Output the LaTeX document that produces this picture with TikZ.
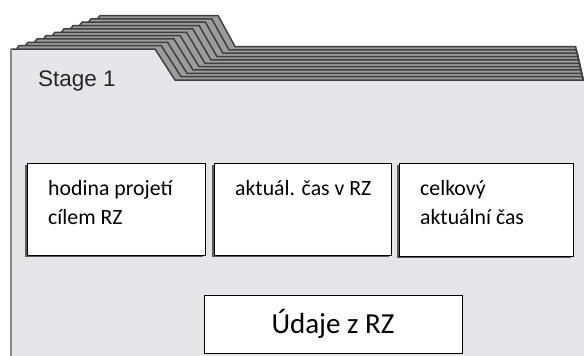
\documentclass[tikz,border=0pt]{standalone}
\usepackage{fontspec}
\setmainfont{Carlito}
\newfontfamily\arialf{Liberation Sans}
\usetikzlibrary{calc}
\definecolor{panelbg}{HTML}{E6E6E9}
\definecolor{stripedark}{HTML}{404040}
\definecolor{stripelight}{HTML}{9C9C9C}
\definecolor{edgegray}{HTML}{8A8A8A}
\definecolor{shadowgray}{HTML}{5A5A5A}
\tikzset{
  backpanel/.style={fill=stripelight, draw=stripedark, line width=1.5pt, line join=miter},
  frontpanel/.style={fill=panelbg, draw=none},
  databox/.style={draw=black, line width=1.3pt, fill=white, anchor=north west, inner sep=0pt},
  shadowbox/.style={fill=shadowgray, draw=none, anchor=north west, inner sep=0pt},
  boxtext/.style={anchor=base west, inner sep=0pt, font=\fontsize{21.8}{29}\selectfont},
}
\begin{document}
\begin{tikzpicture}[x=1pt, y=-1pt]
\useasboundingbox (0,0) rectangle (584,356);
\fill[white] (0,0) rectangle (584,356);
% stacked back panels
\foreach \k in {10,...,1}{
  \pgfmathsetmacro{\yt}{49-3.35*\k}
  \pgfmathsetmacro{\xl}{10+9*\k}
  \pgfmathsetmacro{\xa}{155+6.3*\k}
  \pgfmathsetmacro{\xb}{175+6.0*\k}
  \pgfmathsetmacro{\yr}{80-3.35*\k}
  \pgfmathsetmacro{\xr}{583-0.75*\k}
  \path[backpanel] (\xl-3,\yt+4) -- (\xl,\yt) -- (\xa,\yt) -- (\xb,\yr) -- (\xr,\yr) -- (\xr+2.5,\yr+10) -- (\xr+2.5,120) -- (\xl-3,120);
}
% front panel
\path[frontpanel] (10,49) -- (155,49) -- (175,80) -- (590,80) -- (590,360) -- (10,360) -- cycle;
\draw[stripedark, line width=1.5pt] (11,49) -- (155,49) -- (175,80) -- (590,80);
\draw[edgegray, line width=2pt] (11,48.5) -- (11,360);
\node[anchor=base west, inner sep=0pt, text=black!85, font=\arialf\fontsize{22.5}{26}\selectfont] (stage) at (38,86) {Stage 1};
% shadows
\node[shadowbox, minimum width=178pt, minimum height=92pt] (s1) at (25,165) {};
\node[shadowbox, minimum width=177pt, minimum height=92pt] (s2) at (212,165) {};
\node[shadowbox, minimum width=174pt, minimum height=93pt] (s3) at (397,165) {};
% boxes
\node[databox, minimum width=178pt, minimum height=92pt] (b1) at (27,163) {};
\node[databox, minimum width=177pt, minimum height=92pt] (b2) at (214,163) {};
\node[databox, minimum width=174pt, minimum height=93pt] (b3) at (399,163) {};
\node[boxtext] (t1) at (48,195) {\parbox[t]{150pt}{\baselineskip=29pt hodina projetí\\cílem RZ}};
\node[boxtext] (t2) at (235,195) {aktuál. čas v RZ};
\node[boxtext] (t3) at (420,195) {\parbox[t]{150pt}{\baselineskip=29pt celkový\\aktuální čas}};
\node[draw=black, line width=1.3pt, fill=white, anchor=north west, minimum width=258pt, minimum height=58pt, inner sep=0pt] (ud) at (204,295) {};
\node[anchor=base, inner sep=0pt, font=\fontsize{29}{34}\selectfont] (udt) at (333,333) {Údaje z RZ};
\end{tikzpicture}
\end{document}
